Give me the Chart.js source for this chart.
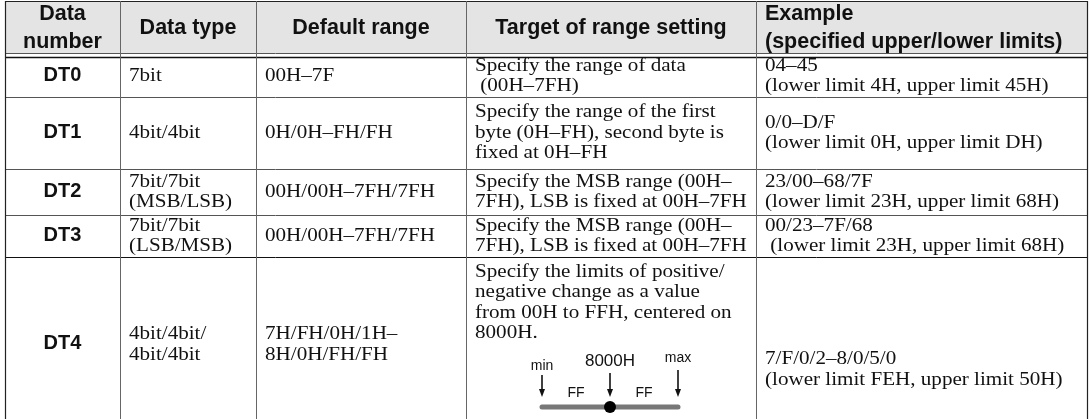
<!DOCTYPE html>
<html>
<head>
<meta charset="utf-8">
<script src="https://cdn.jsdelivr.net/npm/chart.js@4.4.0/dist/chart.umd.min.js"></script>
<style>
  html, body { margin: 0; padding: 0; background: #fff; }
  canvas { display: block; }
</style>
</head>
<body>
<canvas id="tbl" width="1090" height="419"></canvas>
<script>
// table content
const headers = [['Data', 'number'], ['Data type'], ['Default range'], ['Target of range setting'], ['Example', '(specified upper/lower limits)']];
const dataNumbers = ['DT0', 'DT1', 'DT2', 'DT3', 'DT4'];
const dataTypes = [['7bit'], ['4bit/4bit'], ['7bit/7bit', '(MSB/LSB)'], ['7bit/7bit', '(LSB/MSB)'], ['4bit/4bit/', '4bit/4bit']];
const defaultRanges = [['00H\u20137F'], ['0H/0H\u2013FH/FH'], ['00H/00H\u20137FH/7FH'], ['00H/00H\u20137FH/7FH'], ['7H/FH/0H/1H\u2013', '8H/0H/FH/FH']];
const targets = [
  ['Specify the range of data', ' (00H\u20137FH)'],
  ['Specify the range of the first', 'byte (0H\u2013FH), second byte is', 'fixed at 0H\u2013FH'],
  ['Specify the MSB range (00H\u2013', '7FH), LSB is fixed at 00H\u20137FH'],
  ['Specify the MSB range (00H\u2013', '7FH), LSB is fixed at 00H\u20137FH'],
  ['Specify the limits of positive/', 'negative change as a value', 'from 00H to FFH, centered on', '8000H.']
];
const examples = [
  ['04\u201345', '(lower limit 4H, upper limit 45H)'],
  ['0/0\u2013D/F', '(lower limit 0H, upper limit DH)'],
  ['23/00\u201368/7F', '(lower limit 23H, upper limit 68H)'],
  ['00/23\u20137F/68', ' (lower limit 23H, upper limit 68H)'],
  ['7/F/0/2\u20138/0/5/0', '(lower limit FEH, upper limit 50H)']
];
// little range diagram in the DT4 cell
const diagramLabels = ['min', '8000H', 'max'];
const diagramOffsets = [-0xFF, 0, 0xFF];
const diagramSpans = ['FF', 'FF'];

// layout in the 1090x419 frame
const colEdges = [5, 120, 256, 466, 756, 1087];
const rowEdges = [1, 57, 97, 169, 215, 257, 432];
const rowShift = [-1, 0, 0, 0, 0];
const headerFill = 53;
const pad = 9;
const lineH = 20.5;
const serifStretch = 1.11;
const SANS = '"Liberation Sans", Arial, sans-serif';
const SERIF = '"Liberation Serif", "Times New Roman", serif';

const tablePlugin = {
  id: 'tablePlugin',
  afterDraw(chart) {
    const ctx = chart.ctx;
    const sx = chart.scales.x, sy = chart.scales.y;
    const px = v => sx.getPixelForValue(v);
    const py = v => sy.getPixelForValue(v);

    const hline = (x0, x1, yv, color, w) => {
      ctx.strokeStyle = color; ctx.lineWidth = w;
      ctx.beginPath(); ctx.moveTo(px(x0), py(yv)); ctx.lineTo(px(x1), py(yv)); ctx.stroke();
    };
    const vline = (xv, y0, y1, color, w) => {
      ctx.strokeStyle = color; ctx.lineWidth = w;
      ctx.beginPath(); ctx.moveTo(px(xv), py(y0)); ctx.lineTo(px(xv), py(y1)); ctx.stroke();
    };
    // serif body text, slightly widened to get closer to the book face
    const body = (lines, xv, yc) => {
      ctx.save();
      ctx.font = '19px ' + SERIF; ctx.fillStyle = '#111';
      ctx.textAlign = 'left'; ctx.textBaseline = 'middle';
      const top = yc - (lines.length - 1) * lineH / 2;
      lines.forEach((s, i) => {
        ctx.save();
        ctx.translate(px(xv), py(top + i * lineH));
        ctx.scale(serifStretch, 1);
        ctx.fillText(s, 0, 0);
        ctx.restore();
      });
      ctx.restore();
    };
    const sans = (lines, xv, yc, align, font, step) => {
      ctx.font = font; ctx.fillStyle = '#111';
      ctx.textAlign = align; ctx.textBaseline = 'middle';
      const top = yc - (lines.length - 1) * step / 2;
      lines.forEach((s, i) => ctx.fillText(s, px(xv), py(top + i * step)));
    };

    ctx.save();
    const left = colEdges[0], right = colEdges[colEdges.length - 1];

    // header band
    ctx.fillStyle = '#e4e4e4';
    ctx.fillRect(px(left), py(rowEdges[0]), px(right) - px(left), py(headerFill) - py(rowEdges[0]));

    // horizontal rules
    hline(left, right, rowEdges[0] + 0.5, '#222', 1.2);
    hline(left, right, headerFill + 0.5, '#555', 1);
    hline(left, right, rowEdges[1] + 0.5, '#111', 1.5);
    for (let r = 2; r < rowEdges.length - 1; r++) {
      hline(left, right, rowEdges[r] + 0.5, r === 5 ? '#111' : '#555', 1);
    }
    // vertical rules
    colEdges.forEach((c, i) => {
      const outer = i === 0 || i === colEdges.length - 1;
      vline(c + 0.5, rowEdges[0], 419, outer ? '#222' : '#666', outer ? 1.2 : 1);
    });

    // header text
    const hFont = 'bold 21.5px ' + SANS;
    const hMid = (rowEdges[0] + headerFill) / 2 + 1;
    headers.forEach((h, c) => {
      if (c === 4) {
        sans(h, colEdges[c] + pad, hMid, 'left', hFont, 28);
      } else {
        sans(h, (colEdges[c] + colEdges[c + 1]) / 2, hMid, 'center', hFont, 28);
      }
    });

    // body rows
    dataNumbers.forEach((dn, r) => {
      const top = rowEdges[r + 1], bot = rowEdges[r + 2];
      const yc = (top + bot) / 2 + rowShift[r];
      sans([dn], (colEdges[0] + colEdges[1]) / 2, yc - 1, 'center', 'bold 20px ' + SANS, lineH);
      body(dataTypes[r], colEdges[1] + pad, yc);
      body(defaultRanges[r], colEdges[2] + pad, yc);
      if (r === 4) {
        body(targets[r], colEdges[3] + pad, top + 15 + (targets[r].length - 1) * lineH / 2);
        body(examples[r], colEdges[4] + pad, yc + 25);
      } else {
        body(targets[r], colEdges[3] + pad, yc);
        body(examples[r], colEdges[4] + pad, yc);
      }
    });

    // range diagram
    const dCx = 610, dHalf = 68, barY = 407;
    const dx = v => dCx + v / 0xFF * dHalf;
    ctx.strokeStyle = '#777'; ctx.lineWidth = 5; ctx.lineCap = 'round';
    ctx.beginPath(); ctx.moveTo(px(dx(-0xFF)), py(barY)); ctx.lineTo(px(dx(0xFF)), py(barY)); ctx.stroke();
    ctx.lineCap = 'butt';
    const labelY = [366, 361, 358];
    const arrowTop = [375, 373, 370];
    diagramOffsets.forEach((v, i) => {
      const ax = px(dx(v));
      ctx.strokeStyle = '#111'; ctx.lineWidth = 1.6;
      ctx.beginPath(); ctx.moveTo(ax, py(arrowTop[i])); ctx.lineTo(ax, py(392)); ctx.stroke();
      ctx.fillStyle = '#111';
      ctx.beginPath(); ctx.moveTo(ax - 3, py(389)); ctx.lineTo(ax + 3, py(389)); ctx.lineTo(ax, py(397)); ctx.closePath(); ctx.fill();
      ctx.font = (i === 1 ? '17px ' : '14px ') + SANS;
      ctx.textAlign = 'center'; ctx.textBaseline = 'middle';
      ctx.fillText(diagramLabels[i], ax, py(labelY[i]));
    });
    ctx.font = '14px ' + SANS;
    diagramSpans.forEach((s, i) => {
      const mid = (diagramOffsets[i] + diagramOffsets[i + 1]) / 2;
      ctx.fillText(s, px(dx(mid)), py(393));
    });
    ctx.fillStyle = '#000';
    ctx.beginPath(); ctx.arc(px(dx(0)), py(barY), 6, 0, Math.PI * 2); ctx.fill();

    ctx.restore();
  }
};

new Chart(document.getElementById('tbl'), {
  type: 'scatter',
  data: { datasets: [] },
  options: {
    responsive: false,
    animation: false,
    devicePixelRatio: 1,
    layout: { padding: 0 },
    plugins: { legend: { display: false }, tooltip: { enabled: false } },
    scales: {
      x: { type: 'linear', min: 0, max: 1090, display: false },
      y: { type: 'linear', min: 0, max: 419, reverse: true, display: false }
    }
  },
  plugins: [tablePlugin]
});
</script>
</body>
</html>
